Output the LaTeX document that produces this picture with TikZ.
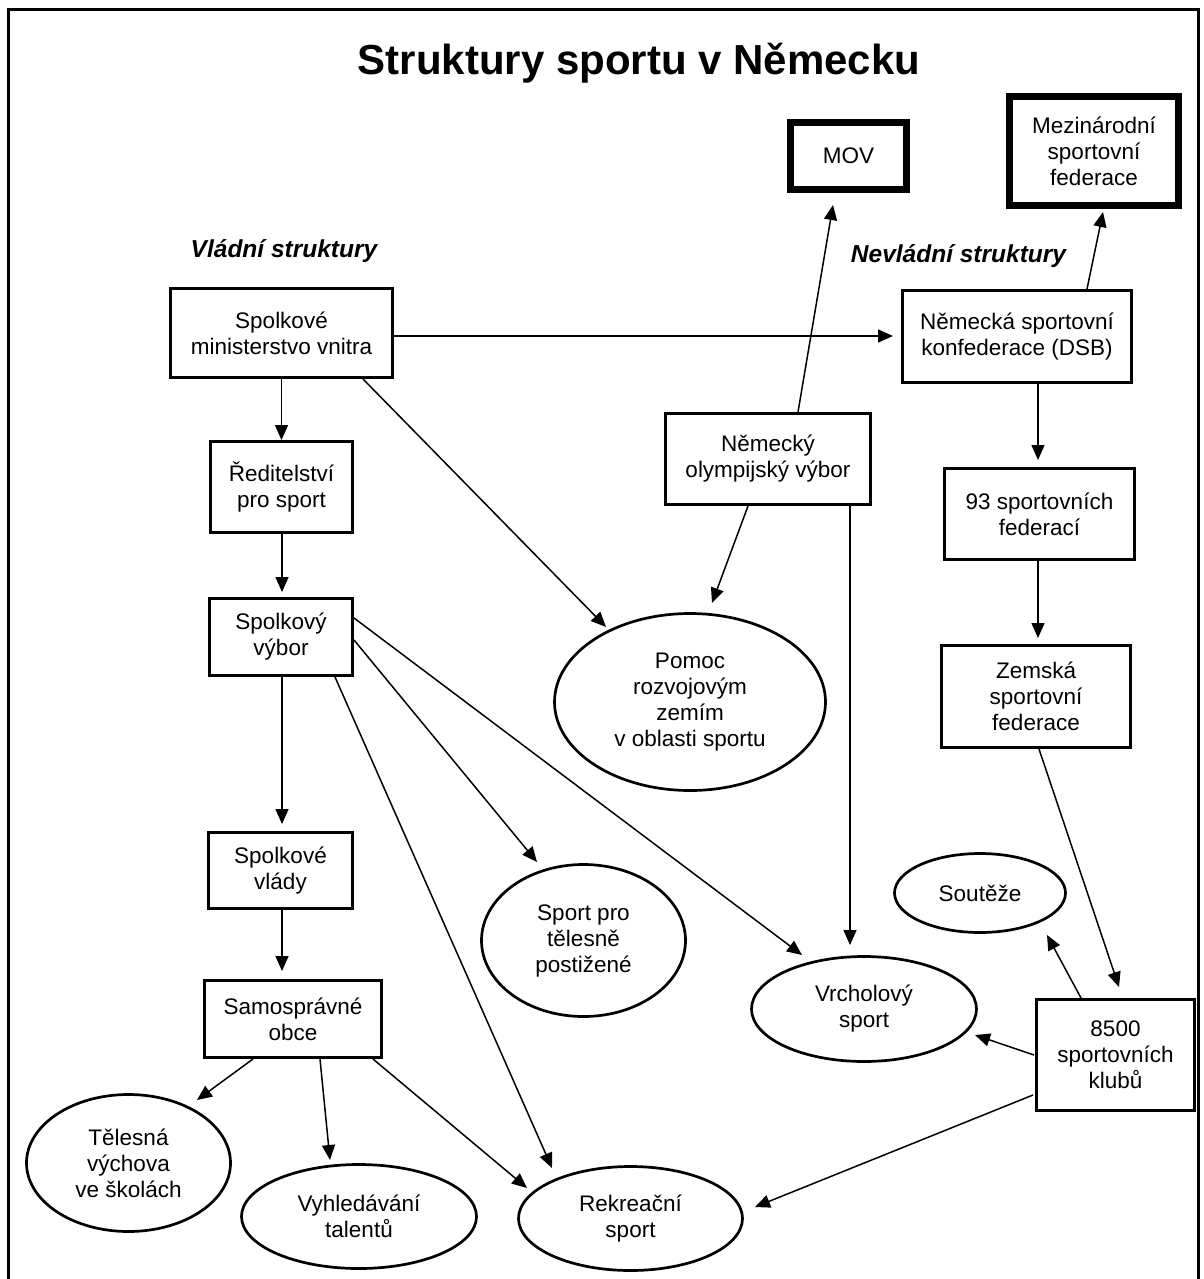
\documentclass[tikz,border=0pt]{standalone}
\usepackage{fontspec}
\setmainfont{Liberation Sans}
\usetikzlibrary{shapes.geometric,arrows.meta}
\newcommand\diagfont{\fontsize{22.5}{26}\selectfont}
\begin{document}
\begin{tikzpicture}[x=1pt,y=-1pt,
  box/.style={draw, rectangle, line width=2.7pt, align=center, font=\diagfont, inner sep=0pt},
  thickbox/.style={box, line width=7pt},
  oval/.style={draw, ellipse, line width=2.7pt, align=center, font=\diagfont, inner sep=0pt},
  arr/.style={line width=1.5pt, -{Triangle[length=15pt,width=13pt]}},
  heading/.style={font=\fontsize{24.5}{28}\selectfont\bfseries\itshape, anchor=base, inner sep=0pt},
  titlestyle/.style={font=\fontsize{42}{48}\selectfont\bfseries, anchor=base, inner sep=0pt}]
\useasboundingbox (0,0) rectangle (1203,1279);
\clip (0,0) rectangle (1203,1279);
\fill[white] (0,0) rectangle (1203,1279);
% frame
\draw[line width=3pt] (8,1300) -- (8,9.5) -- (1198,9.5) -- (1198,1300);
% texts
\node[titlestyle] (title) at (639,75) {Struktury sportu v Německu};
\node[heading] (vlad) at (284,257) {Vládní struktury};
\node[heading] (nevlad) at (958.5,262) {Nevládní struktury};
% boxes
\node[box, minimum width=222pt, minimum height=89pt] (min) at (281.5,333) {Spolkové\\ministerstvo vnitra};
\node[box, minimum width=229pt, minimum height=92pt] (dsb) at (1017,336.5) {Německá sportovní\\konfederace (DSB)};
\node[box, minimum width=142pt, minimum height=91pt] (red) at (281.5,487) {Ředitelství\\pro sport};
\node[box, minimum width=205pt, minimum height=91pt] (nov) at (768,459) {Německý\\olympijský výbor};
\node[box, minimum width=190pt, minimum height=91pt] (f93) at (1039.5,514) {93 sportovních\\federací};
\node[box, minimum width=143pt, minimum height=77pt] (svyb) at (281,637) {Spolkový\\výbor};
\node[box, minimum width=189pt, minimum height=102pt] (zem) at (1036,696.5) {Zemská\\sportovní\\federace};
\node[box, minimum width=144pt, minimum height=76pt] (svl) at (280.5,870.5) {Spolkové\\vlády};
\node[box, minimum width=177pt, minimum height=77pt] (obce) at (293,1019) {Samosprávné\\obce};
\node[box, minimum width=158pt, minimum height=111pt] (kluby) at (1115.5,1055) {8500\\sportovních\\klubů};
\node[thickbox, minimum width=116pt, minimum height=67pt] (mov) at (848.5,156) {MOV};
\node[thickbox, minimum width=169pt, minimum height=109pt] (mez) at (1094,151) {Mezinárodní\\sportovní\\federace};
% ellipses
\node[oval, minimum width=271pt, minimum height=177pt] (pomoc) at (690,702) {Pomoc\\rozvojovým\\zemím\\v oblasti sportu};
\node[oval, minimum width=204pt, minimum height=152pt] (sport) at (583.5,940.5) {Sport pro\\tělesně\\postižené};
\node[oval, minimum width=171pt, minimum height=79pt] (soutez) at (980,893) {Soutěže};
\node[oval, minimum width=225pt, minimum height=105pt] (vrchol) at (864,1009) {Vrcholový\\sport};
\node[oval, minimum width=204pt, minimum height=137pt] (telesna) at (128.5,1163) {Tělesná\\výchova\\ve školách};
\node[oval, minimum width=235pt, minimum height=104pt] (vyhled) at (359,1216.5) {Vyhledávání\\talentů};
\node[oval, minimum width=224pt, minimum height=104pt] (rekre) at (630.5,1218.5) {Rekreační\\sport};
% connectors
\draw[arr] ([shift={(112.5,3)}]min.center) -- ([shift={(-124,-0.5)}]dsb.center);
\draw[arr] ([shift={(0,46)}]min.center) -- ([shift={(0,-47)}]red.center);
\draw[arr] ([shift={(0.5,47)}]red.center) -- ([shift={(1,-45)}]svyb.center);
\draw[arr] ([shift={(1,40)}]svyb.center) -- ([shift={(1.5,-46.5)}]svl.center);
\draw[arr] ([shift={(1.5,39.5)}]svl.center) -- ([shift={(-11,-48)}]obce.center);
\draw[arr] ([shift={(21,47.5)}]dsb.center) -- ([shift={(-1.5,-54)}]f93.center);
\draw[arr] ([shift={(-1.5,47)}]f93.center) -- ([shift={(2,-58.5)}]zem.center);
\draw[arr] ([shift={(70,-47.5)}]dsb.center) -- ([shift={(9,61)}]mez.center);
\draw[arr] ([shift={(30,-47)}]nov.center) -- ([shift={(-15.5,49)}]mov.center);
\draw[arr] ([shift={(81.5,46)}]min.center) -- ([shift={(-84,-75)}]pomoc.center);
\draw[arr] ([shift={(-20,47)}]nov.center) -- ([shift={(22,-99)}]pomoc.center);
\draw[arr] ([shift={(82,47)}]nov.center) -- ([shift={(-14,-64)}]vrchol.center);
\draw[arr] ([shift={(3,52.5)}]zem.center) -- ([shift={(3.5,-68)}]kluby.center);
\draw[arr] ([shift={(-34.5,-57)}]kluby.center) -- ([shift={(67,42)}]soutez.center);
\draw[arr] ([shift={(-81.5,0)}]kluby.center) -- ([shift={(111,26)}]vrchol.center);
\draw[arr] ([shift={(-82.5,40)}]kluby.center) -- ([shift={(124.5,-11.5)}]rekre.center);
\draw[arr] ([shift={(73,-19)}]svyb.center) -- ([shift={(-62,-54)}]vrchol.center);
\draw[arr] ([shift={(73,3)}]svyb.center) -- ([shift={(-46.5,-78.5)}]sport.center);
\draw[arr] ([shift={(54,40)}]svyb.center) -- ([shift={(-78.5,-50.5)}]rekre.center);
\draw[arr] ([shift={(-40,40)}]obce.center) -- ([shift={(68.5,-63)}]telesna.center);
\draw[arr] ([shift={(27,40)}]obce.center) -- ([shift={(-29,-56.5)}]vyhled.center);
\draw[arr] ([shift={(80,40)}]obce.center) -- ([shift={(-103.5,-30.5)}]rekre.center);
\end{tikzpicture}
\end{document}
